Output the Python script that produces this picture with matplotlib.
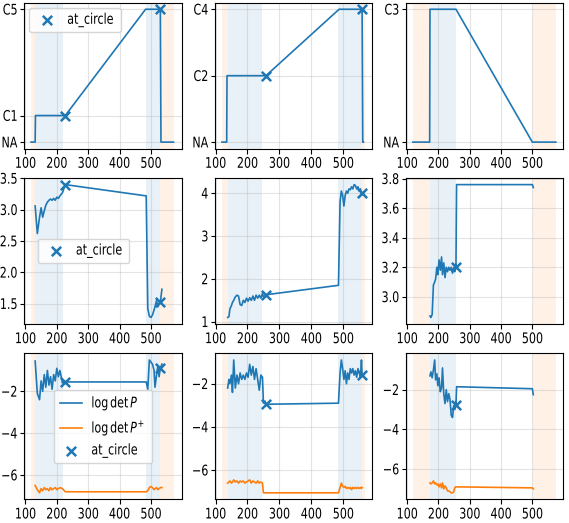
import matplotlib
matplotlib.use('Agg')
import matplotlib.pyplot as plt
from matplotlib.patheffects import AbstractPathEffect
from matplotlib.transforms import Affine2D

plt.rcParams['font.family'] = ['DejaVu Sans']
plt.rcParams['font.size'] = 8
plt.rcParams['ytick.major.pad'] = 2
plt.rcParams['ytick.major.size'] = 2.6


# the reference uses narrow, tall glyphs: keep the layout width of 8pt text
# but draw the glyphs taller
class TallText(AbstractPathEffect):
    def __init__(self, sy=1.32):
        super().__init__()
        self.sy = sy

    def draw_path(self, renderer, gc, tpath, affine, rgbFace=None):
        ext = tpath.get_extents()
        cy = (ext.y0 + ext.y1) / 2
        stretch = Affine2D().translate(0, -cy).scale(1, self.sy).translate(0, cy)
        renderer.draw_path(gc, tpath, stretch + affine, rgbFace)


# ---- column 1 ----
t_state1 = [118, 131, 132, 227, 483, 530, 532, 572]
state1 = [0, 0, 1, 1, 5, 5, 0, 0]
state1_ticks = [0, 1, 5]
state1_labels = ['NA', 'C1', 'C5']
circ1_state_t = [227, 530]
circ1_state = [1, 5]

t1 = [131, 138, 145, 150, 155, 160, 165, 170, 175, 180, 185, 190, 195, 200, 205, 210, 218, 227,
      485, 490, 495, 500, 505, 510, 513, 518, 522, 526, 530, 535]
mid1 = [3.06, 2.62, 2.88, 3.03, 2.88, 2.98, 3.07, 3.12, 3.15, 3.17, 3.15, 3.18, 3.15, 3.2, 3.18, 3.22, 3.27, 3.4,
        3.22, 1.42, 1.3, 1.28, 1.32, 1.4, 1.45, 1.55, 1.45, 1.5, 1.52, 1.73]
ldp1 = [-0.55, -2.1, -2.4, -1.5, -2.0, -1.2, -1.8, -1.0, -1.7, -1.3, -1.9, -1.2, -1.5, -0.9, -1.3, -1.0, -1.6, -1.55,
        -1.55, -1.9, -0.5, -0.6, -0.7, -1.0, -1.8, -1.2, -0.8, -1.3, -0.9, -0.7]
ldpp1 = [-6.5, -6.7, -6.85, -6.65, -6.75, -6.6, -6.7, -6.65, -6.75, -6.6, -6.7, -6.65, -6.6, -6.7, -6.65, -6.6, -6.65, -6.8,
         -6.8, -6.75, -6.6, -6.55, -6.6, -6.7, -6.65, -6.6, -6.7, -6.65, -6.6, -6.6]
circ1_idx = [17, 28]
blue1 = [(131, 220), (485, 529)]
orange1 = [(118, 131), (529, 575)]

# ---- column 2 ----
t_state2 = [120, 135, 136, 258, 487, 559, 561, 563]
state2 = [0, 0, 2, 2, 4, 4, 0, 0]
state2_ticks = [0, 2, 4]
state2_labels = ['NA', 'C2', 'C4']
circ2_state_t = [258, 559]
circ2_state = [2, 4]

t2 = [138, 142, 145, 150, 153, 157, 162, 167, 172, 177, 182, 187, 192, 197, 202, 207, 212, 217, 222, 227,
      232, 237, 242, 247, 250, 255, 258,
      485, 490, 494, 498, 502, 506, 510, 514, 518, 522, 526, 530, 534, 538, 542, 546, 550, 554, 557, 559]
mid2 = [1.1, 1.12, 1.3, 1.38, 1.45, 1.5, 1.58, 1.62, 1.6, 1.4, 1.38, 1.5, 1.45, 1.55, 1.48, 1.56, 1.5, 1.6, 1.5, 1.62,
        1.55, 1.62, 1.55, 1.66, 1.58, 1.6, 1.63,
        1.85, 3.8, 4.05, 3.95, 3.7, 3.95, 4.05, 4.0, 4.1, 4.08, 4.15, 4.1, 4.2, 4.18, 4.1, 4.15, 4.05, 4.1, 3.95, 4.0]
ldp2 = [-2.2, -1.8, -2.0, -1.6, -2.4, -0.9, -2.2, -1.6, -2.0, -1.5, -1.8, -1.6, -1.8, -1.5, -1.7, -1.1, -1.6, -1.2, -1.8, -1.3,
        -1.8, -2.3, -1.6, -1.7, -2.9, -2.8, -2.95,
        -2.9, -1.5, -0.9, -1.3, -1.8, -1.4, -2.0, -1.5, -1.8, -1.3, -1.5, -1.3, -1.6, -1.4, -1.7, -1.3, -1.5, -1.7, -0.9, -1.6]
ldpp2 = [-6.6, -6.55, -6.5, -6.6, -6.55, -6.45, -6.55, -6.5, -6.6, -6.5, -6.55, -6.5, -6.6, -6.55, -6.5, -6.45, -6.6, -6.5, -6.55, -6.6,
         -6.5, -6.6, -6.55, -6.6, -7.05, -7.05, -7.05,
         -7.05, -6.8, -6.6, -6.75, -6.8, -6.75, -6.85, -6.8, -6.85, -6.8, -6.9, -6.8, -6.85, -6.8, -6.85, -6.8, -6.85, -6.8, -6.85, -6.8]
circ2_idx = [26, 46]
blue2 = [(138, 247), (483, 560)]
orange2 = [(120, 138), (560, 569)]

# ---- column 3 ----
t_state3 = [118, 172, 173, 256, 500, 575]
state3 = [0, 0, 3, 3, 0, 0]
state3_ticks = [0, 3]
state3_labels = ['NA', 'C3']

t3 = [173, 176, 180, 184, 188, 191, 195, 198, 202, 206, 210, 213, 217, 221, 225, 229, 233, 237, 241, 245,
      249, 252, 255, 256, 258, 500, 503]
mid3 = [2.87, 2.86, 2.88, 3.08, 3.1, 3.12, 3.2, 3.15, 3.25, 3.18, 3.27, 3.15, 3.23, 3.13, 3.2, 3.17, 3.2, 3.18, 3.2, 3.16,
        3.2, 3.17, 3.22, 3.2, 3.76, 3.76, 3.74]
ldp3 = [-1.3, -1.1, -1.4, -1.0, -0.5, -1.5, -1.2, -1.8, -1.4, -2.1, -1.9, -0.9, -2.2, -2.7, -2.0, -2.6, -2.2, -2.5, -3.3, -3.4,
        -2.8, -3.0, -2.6, -2.75, -1.85, -1.95, -2.25]
ldpp3 = [-6.7, -6.75, -6.7, -6.6, -6.75, -6.7, -6.8, -6.75, -6.9, -6.75, -6.95, -6.7, -7.0, -6.85, -6.95, -7.1, -7.1, -7.15, -7.2, -7.2,
         -7.15, -6.95, -6.9, -6.9, -6.9, -6.95, -7.0]
circ3_idx = [23]
blue3 = [(173, 256)]
orange3 = [(118, 173), (502, 576)]

columns = [
    (t_state1, state1, state1_ticks, state1_labels, circ1_state_t, circ1_state, t1, mid1, ldp1, ldpp1, circ1_idx, blue1, orange1),
    (t_state2, state2, state2_ticks, state2_labels, circ2_state_t, circ2_state, t2, mid2, ldp2, ldpp2, circ2_idx, blue2, orange2),
    (t_state3, state3, state3_ticks, state3_labels, [], [], t3, mid3, ldp3, ldpp3, circ3_idx, blue3, orange3),
]

fig, axes = plt.subplots(3, 3, figsize=(5.69, 5.23), dpi=100)
fig.subplots_adjust(left=0.042, right=0.99, top=0.995, bottom=0.045, wspace=0.21, hspace=0.2)

mk = dict(marker='x', color='C0', s=45, linewidths=1.8, zorder=3)

for j, col in enumerate(columns):
    ts, st, sticks, slabels, cst, cs, t, mid, ldp, ldpp, cidx, blue, orange = col
    for ax in axes[:, j]:
        for a, b in blue:
            ax.axvspan(a, b, color='C0', alpha=0.1, lw=0)
        for a, b in orange:
            ax.axvspan(a, b, color='C1', alpha=0.1, lw=0)
        ax.grid(True, alpha=0.35)
        ax.set_xticks([100, 200, 300, 400, 500])

    ax = axes[0, j]
    ax.plot(ts, st, color='C0', lw=1.2)
    if cst:
        ax.scatter(cst, cs, label='at_circle', **mk)
    ax.set_yticks(sticks, slabels)

    ax = axes[1, j]
    ax.plot(t, mid, color='C0', lw=1.2)
    ax.scatter([t[i] for i in cidx], [mid[i] for i in cidx], label='at_circle', **mk)

    ax = axes[2, j]
    ax.plot(t, ldp, color='C0', lw=1.2, label=r'$\log\det P$')
    ax.plot(t, ldpp, color='C1', lw=1.2, label=r'$\log\det P^{+}$')
    ax.scatter([t[i] for i in cidx], [ldp[i] for i in cidx], label='at_circle', **mk)

legs = [
    axes[0, 0].legend(loc='upper left', labelspacing=0.8, borderpad=0.6),
    axes[1, 0].legend(loc='center left', bbox_to_anchor=(0.055, 0.5), labelspacing=0.8, borderpad=0.6),
    axes[2, 0].legend(loc='center', labelspacing=0.8, borderpad=0.6),
]

fig.canvas.draw()
tall = [TallText()]
for ax in axes.flat:
    for lab in ax.get_xticklabels() + ax.get_yticklabels():
        lab.set_path_effects(tall)
for leg in legs:
    for txt in leg.get_texts():
        txt.set_path_effects(tall)

fig.savefig('out.png', dpi=100)
